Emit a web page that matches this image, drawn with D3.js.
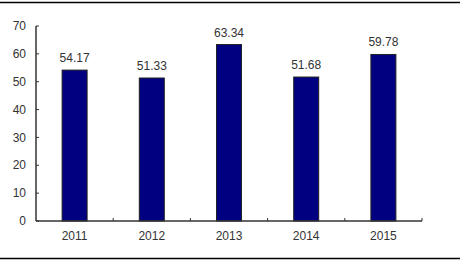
<!DOCTYPE html>
<html>
<head>
<meta charset="utf-8">
<script src="https://cdn.jsdelivr.net/npm/d3@7"></script>
<style>
  body { margin: 0; background: #fff; }
  text { font-family: Arial, "Liberation Sans", sans-serif; }
</style>
</head>
<body>
<script>
const years = ["2011", "2012", "2013", "2014", "2015"];
const values = [54.17, 51.33, 63.34, 51.68, 59.78];
const yTicks = [0, 10, 20, 30, 40, 50, 60, 70];

const width = 460, height = 262;
const margin = { left: 36, top: 26, right: 38, bottom: 41 };
const innerWidth = width - margin.left - margin.right;
const innerHeight = height - margin.top - margin.bottom;

const svg = d3.select("body").append("svg")
  .attr("width", width)
  .attr("height", height);

// frame lines top and bottom
svg.append("line")
  .attr("x1", 0).attr("x2", 460).attr("y1", 2.5).attr("y2", 2.5)
  .attr("stroke", "#000").attr("stroke-width", 1.5);
svg.append("line")
  .attr("x1", 0).attr("x2", 460).attr("y1", 258.5).attr("y2", 258.5)
  .attr("stroke", "#000").attr("stroke-width", 1.5);

const g = svg.append("g")
  .attr("transform", `translate(${margin.left},${margin.top})`);

const x = d3.scaleBand().domain(years).range([0, innerWidth]);
const y = d3.scaleLinear().domain([0, 70]).range([innerHeight, 0]);

const barW = 25;

g.selectAll("rect.bar")
  .data(values)
  .join("rect")
  .attr("class", "bar")
  .attr("x", (d, i) => x(years[i]) + x.bandwidth() / 2 - barW / 2)
  .attr("y", d => y(d))
  .attr("width", barW)
  .attr("height", d => innerHeight - y(d))
  .attr("fill", "#000080")
  .attr("stroke", "#222")
  .attr("stroke-width", 1);

g.selectAll("text.val")
  .data(values)
  .join("text")
  .attr("class", "val")
  .attr("x", (d, i) => x(years[i]) + x.bandwidth() / 2)
  .attr("y", d => y(d) - 8)
  .attr("text-anchor", "middle")
  .attr("font-size", 12)
  .attr("fill", "#333")
  .text(d => d.toFixed(2));

// y axis, ticks inward
const yG = g.append("g");
yG.append("line")
  .attr("y1", 0).attr("y2", innerHeight)
  .attr("stroke", "#333").attr("stroke-width", 1.5);
yG.selectAll("line.tk")
  .data(yTicks)
  .join("line")
  .attr("class", "tk")
  .attr("x1", 0).attr("x2", 3)
  .attr("y1", d => y(d)).attr("y2", d => y(d))
  .attr("stroke", "#333");
yG.selectAll("text")
  .data(yTicks)
  .join("text")
  .attr("x", -10)
  .attr("y", d => y(d))
  .attr("dy", "0.35em")
  .attr("text-anchor", "end")
  .attr("font-size", 12)
  .attr("fill", "#333")
  .text(d => d);

// x axis, ticks between categories, pointing up
const xEdges = years.map(d => x(d) + x.bandwidth());
const xAxisG = g.append("g").attr("transform", `translate(0,${innerHeight})`);
xAxisG.append("line")
  .attr("x1", 0).attr("x2", innerWidth)
  .attr("stroke", "#333").attr("stroke-width", 1.5);
xAxisG.selectAll("line.tk")
  .data(xEdges)
  .join("line")
  .attr("class", "tk")
  .attr("x1", d => d).attr("x2", d => d)
  .attr("y1", 0).attr("y2", -3)
  .attr("stroke", "#333");
xAxisG.selectAll("text")
  .data(years)
  .join("text")
  .attr("x", d => x(d) + x.bandwidth() / 2)
  .attr("y", 19)
  .attr("text-anchor", "middle")
  .attr("font-size", 12)
  .attr("fill", "#333")
  .text(d => d);
</script>
</body>
</html>
